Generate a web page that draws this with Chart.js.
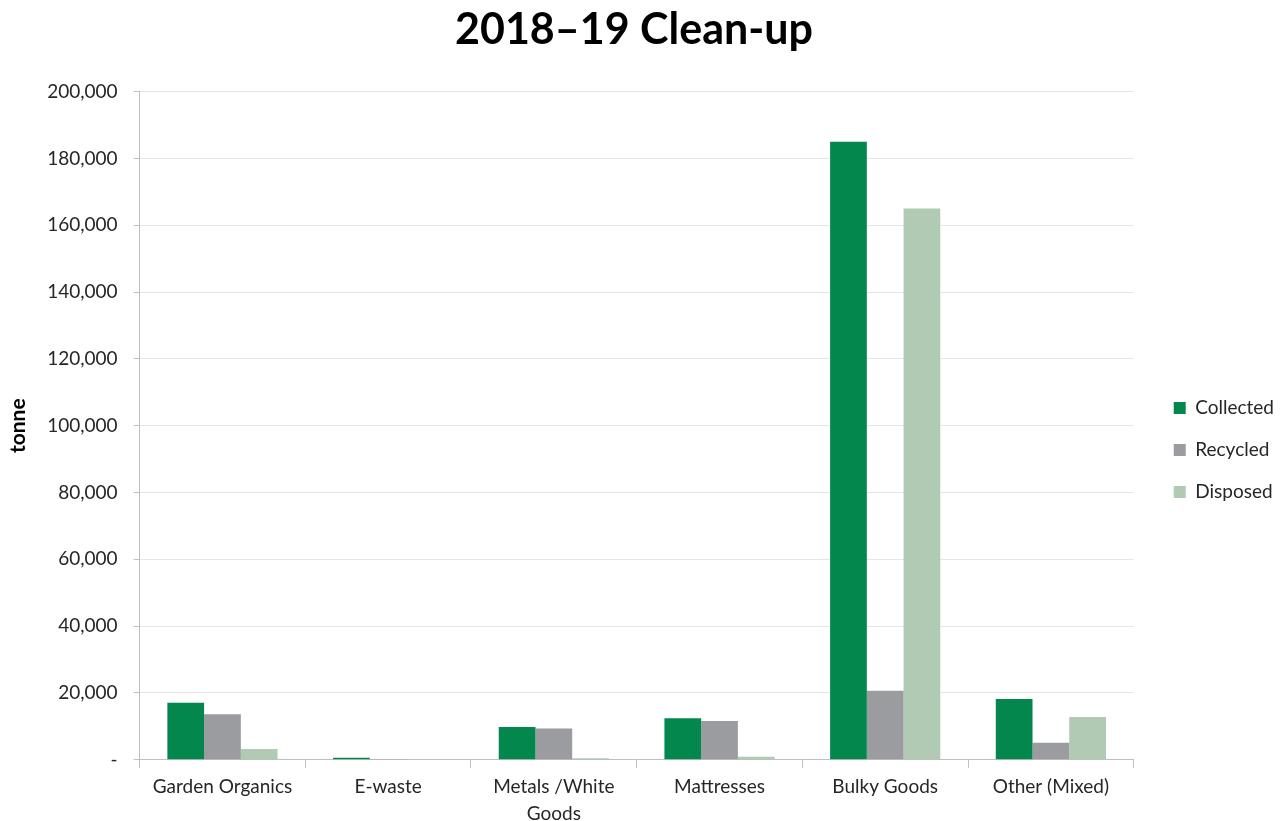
<!DOCTYPE html>
<html>
<head>
<meta charset="utf-8">
<script src="https://cdn.jsdelivr.net/npm/chart.js@4.4.0/dist/chart.umd.min.js"></script>
<style>
  html, body { margin: 0; padding: 0; background: #ffffff; }
  #wrap { width: 1282px; height: 821px; position: relative; }
</style>
</head>
<body>
<div id="wrap"><canvas id="cleanupChart"></canvas></div>
<script>
'use strict';
// ---------------------- Data -----------------
const categories = ['Garden Organics', 'E-waste', ['Metals /White', 'Goods'], 'Mattresses', 'Bulky Goods', 'Other (Mixed)'];
const collected = [17100, 600, 9800, 12400, 185000, 18200];
const recycled = [13600, 100, 9400, 11600, 20700, 5100];
const disposed = [3200, 100, 500, 900, 165000, 12800];
const yTicks = [0, 20000, 40000, 60000, 80000, 100000, 120000, 140000, 160000, 180000, 200000];

const fontFamily = 'Lato, "Open Sans", sans-serif';
const textColor = '#262626';

function formatTick(value) {
  if (value === 0) {
    return '-';
  }
  return value.toLocaleString('en-US');
}

// nudges legend and title to where the Excel original has them
const blockOffset = {
  id: 'blockOffset',
  beforeInit(chart) {
    const legend = chart.legend;
    const fit = legend.fit;
    const drawLegend = legend._draw;
    legend.fit = function () {
      fit.call(this);
      this.width += 17;
    };
    legend._draw = function () {
      this.left += 17;
      this.top += 63;
      drawLegend.call(this);
      this.left -= 17;
      this.top -= 63;
    };
    const title = chart.titleBlock;
    const drawTitle = title.draw;
    title.draw = function () {
      this.left -= 22;
      drawTitle.call(this);
      this.left += 22;
    };
  }
};

// ---------------------- Chart -----------------
const context = document.getElementById('cleanupChart').getContext('2d');
const cleanupChart = new Chart(context, {
  type: 'bar',
  data: {
    labels: categories,
    datasets: [
      { label: 'Collected', data: collected, backgroundColor: '#03874c' },
      { label: 'Recycled', data: recycled, backgroundColor: '#9b9c9f' },
      { label: 'Disposed', data: disposed, backgroundColor: '#b1cab4' }
    ]
  },
  plugins: [blockOffset],
  options: {
    responsive: true,
    maintainAspectRatio: false,
    animation: false,
    datasets: {
      bar: { categoryPercentage: 0.665, barPercentage: 1.0 }
    },
    layout: { padding: { top: 4, right: -2, bottom: -12, left: 6 } },
    plugins: {
      title: {
        display: true,
        text: '2018\u201319 Clean-up',
        color: '#000000',
        font: { family: fontFamily, size: 43, weight: 'bold' },
        padding: { top: 0, bottom: 36 }
      },
      legend: {
        position: 'right',
        labels: {
          color: textColor,
          font: { family: fontFamily, size: 19 },
          boxWidth: 12,
          boxHeight: 12,
          padding: 23
        }
      },
      tooltip: { enabled: false }
    },
    scales: {
      x: {
        grid: {
          drawOnChartArea: false,
          color: '#bfbfbf',
          tickLength: 8,
          offset: true
        },
        border: { color: '#bfbfbf' },
        ticks: {
          color: textColor,
          font: { family: fontFamily, size: 19, lineHeight: 1.4 },
          maxRotation: 0,
          autoSkip: false,
          padding: 6
        }
      },
      y: {
        min: 0,
        max: 200000,
        afterBuildTicks: function (axis) {
          axis.ticks = yTicks.map(function (v) { return { value: v }; });
        },
        grid: {
          color: '#e6e6e6',
          tickColor: '#bfbfbf',
          tickLength: 6
        },
        border: { color: '#bfbfbf' },
        ticks: {
          color: textColor,
          font: { family: fontFamily, size: 19 },
          padding: 16,
          callback: formatTick
        },
        title: {
          display: true,
          text: 'tonne',
          color: '#000000',
          font: { family: fontFamily, size: 21, weight: 'bold' },
          padding: { top: 0, bottom: 0 }
        }
      }
    }
  }
});
</script>
</body>
</html>
